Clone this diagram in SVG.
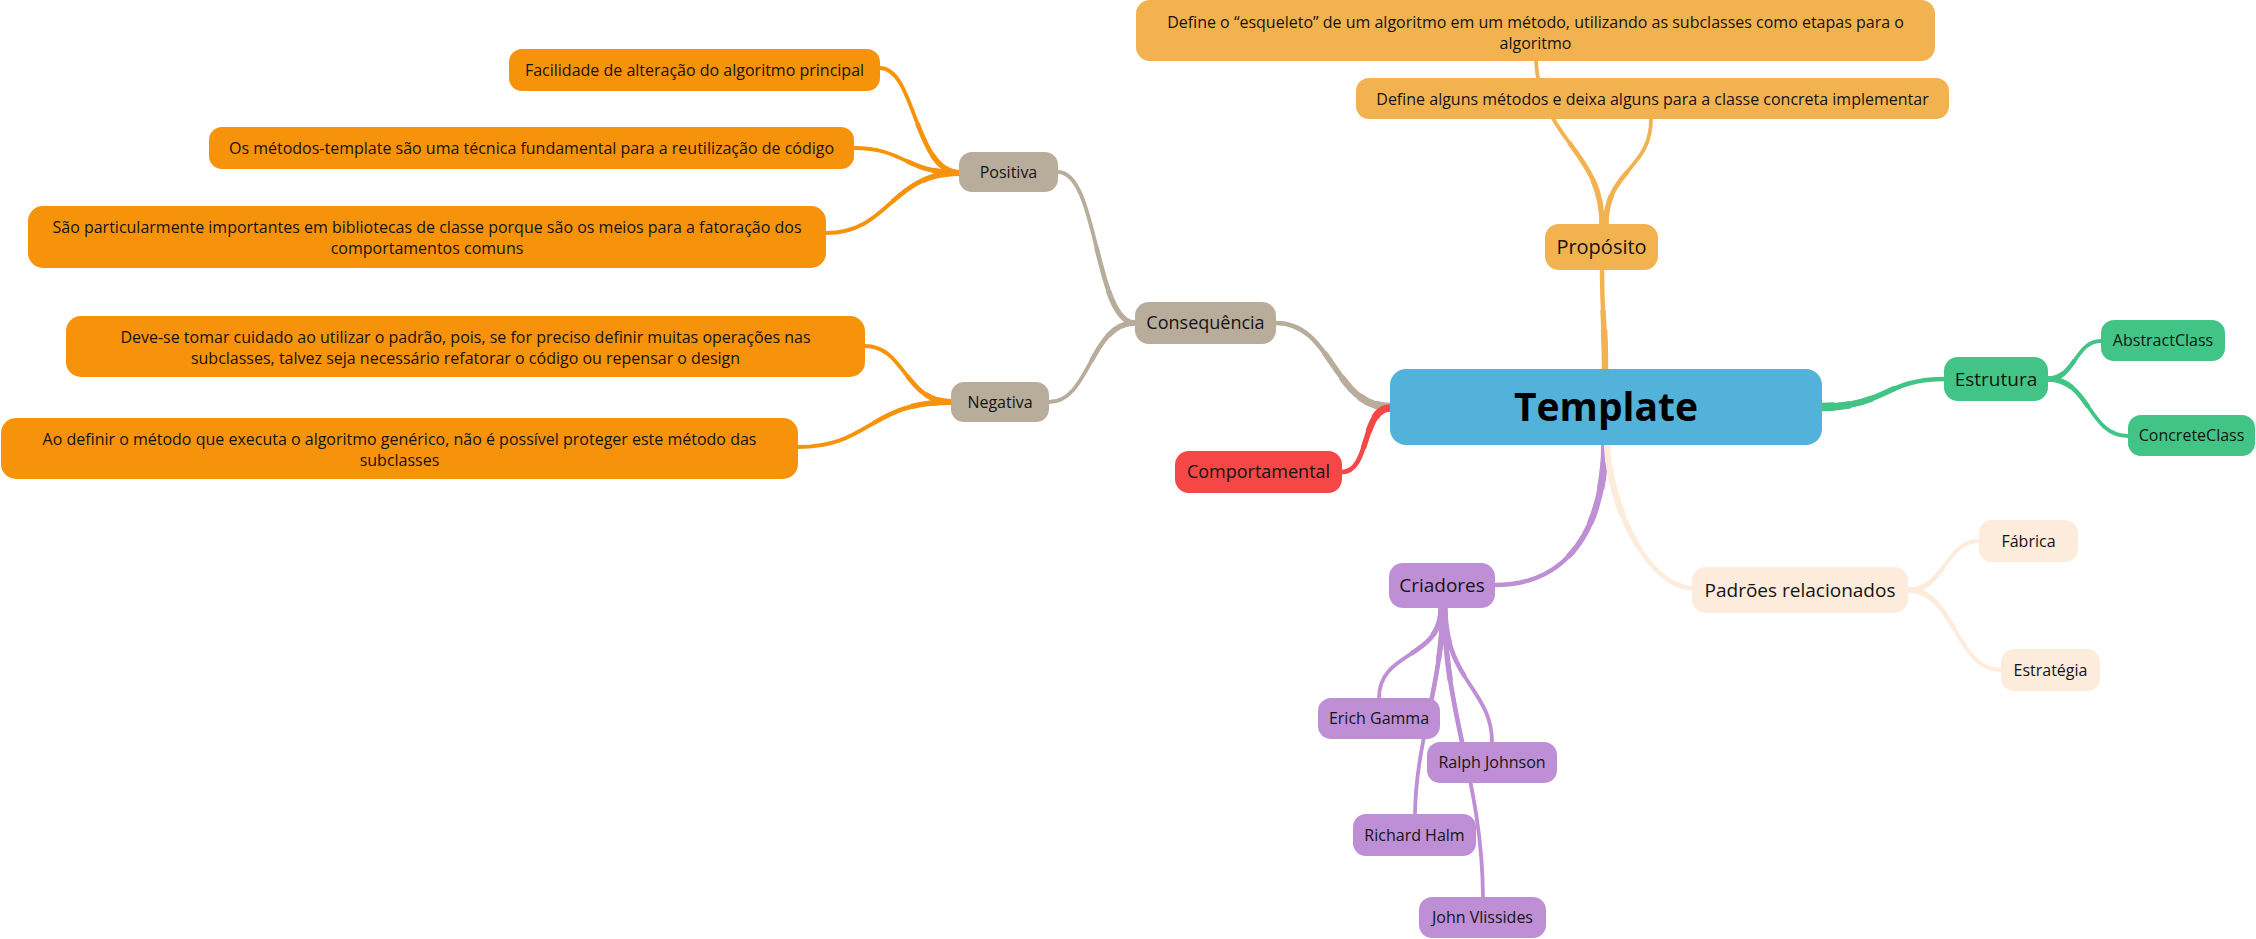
<svg xmlns="http://www.w3.org/2000/svg" xmlns:xlink="http://www.w3.org/1999/xlink" width="2256" height="939" viewBox="0 0 2256 939">
<style>
  text { font-family: "Open Sans", "Noto Sans", "Liberation Sans", sans-serif; fill: #141414; text-anchor: middle; font-size: 16px; }
  .title { font-size: 39px; font-weight: bold; fill: #000; }
  .f20 { font-size: 20px; }
  .f19 { font-size: 19px; }
  .f18 { font-size: 18px; }
  .k-taupe { stroke: #b8ac9a; }
  .k-red { stroke: #f64747; }
  .k-green { stroke: #41c486; }
  .k-yellow { stroke: #f3b250; }
  .k-purple { stroke: #be8fd4; }
  .k-peach { stroke: #fdebdc; }
  .k-orange { stroke: #f7930b; }
  .base-main { stroke-width: 4.5; }
  .base-sub { stroke-width: 3.8; }
  .tp { stroke-linecap: butt; }
  .m1 { stroke-width: 5.5; stroke-dasharray: 60 200; }
  .m2 { stroke-width: 6.5; stroke-dasharray: 40 200; }
  .m3 { stroke-width: 7.5; stroke-dasharray: 22 200; }
  .m4 { stroke-width: 8.5; stroke-dasharray: 10 200; }
  .s1 { stroke-width: 4.6; stroke-dasharray: 50 200; }
  .s2 { stroke-width: 5.4; stroke-dasharray: 25 200; }
  .s3 { stroke-width: 6.2; stroke-dasharray: 12 200; }
  .c-blue { fill: #53b2d9; }
  .c-yellow { fill: #f3b250; }
  .c-green { fill: #41c486; }
  .c-peach { fill: #fdebdc; }
  .c-purple { fill: #be8fd4; }
  .c-taupe { fill: #b8ac9a; }
  .c-red { fill: #f64747; }
  .c-orange { fill: #f7930b; }
</style>

<g id="connectors" fill="none" stroke-linecap="round">
  <g class="base-main">
    <path id="e1" class="k-taupe" pathLength="100" d="M1390,407 C1333,407 1333,323 1276,323"/>
    <path id="e2" class="k-red" pathLength="100" d="M1390,408 C1362,408 1370,472 1342,472"/>
    <path id="e3" class="k-green" pathLength="100" d="M1822,407 C1885,407 1885,379 1945,379"/>
    <path id="e4" class="k-yellow" pathLength="100" d="M1605,370 C1605,320 1602,320 1602,270"/>
    <path id="e5" class="k-purple" pathLength="100" d="M1605,445 C1603,540 1560,585 1495,585"/>
    <path id="e6" class="k-peach" pathLength="100" d="M1607,445 C1610,510 1650,588 1692,588"/>
  </g>
  <g class="base-sub">
    <path id="e7" class="k-yellow" pathLength="100" d="M1602,224 C1602,150 1540,140 1536,61"/>
    <path id="e8" class="k-yellow" pathLength="100" d="M1606,224 C1606,170 1651,170 1651,119"/>
    <path id="e9" class="k-green" pathLength="100" d="M2048,379 C2075,379 2075,341 2101,341"/>
    <path id="e10" class="k-green" pathLength="100" d="M2048,379 C2090,379 2088,436 2128,436"/>
    <path id="e11" class="k-peach" pathLength="100" d="M1908,590 C1945,590 1945,541 1979,541"/>
    <path id="e12" class="k-peach" pathLength="100" d="M1908,590 C1955,590 1955,670 2001,670"/>
    <path id="e13" class="k-taupe" pathLength="100" d="M1135,323 C1095,323 1098,172 1058,172"/>
    <path id="e14" class="k-taupe" pathLength="100" d="M1135,323 C1090,323 1090,402 1049,402"/>
    <path id="e15" class="k-purple" pathLength="100" d="M1441,608 C1441,660 1379,650 1379,698"/>
    <path id="e16" class="k-purple" pathLength="100" d="M1443,608 C1441,690 1416,740 1415,814"/>
    <path id="e17" class="k-purple" pathLength="100" d="M1445,608 C1445,680 1492,690 1492,742"/>
    <path id="e18" class="k-purple" pathLength="100" d="M1444,608 C1446,720 1482,780 1483,897"/>
    <path id="e19" class="k-orange" pathLength="100" d="M960,173 C915,173 915,68 880,68"/>
    <path id="e20" class="k-orange" pathLength="100" d="M960,173 C905,173 905,148 854,148"/>
    <path id="e21" class="k-orange" pathLength="100" d="M960,173 C890,173 890,233 826,233"/>
    <path id="e22" class="k-orange" pathLength="100" d="M951,402 C905,402 905,346 865,346"/>
    <path id="e23" class="k-orange" pathLength="100" d="M951,402 C870,402 870,447 798,447"/>
  </g>
  <!-- taper overlays: progressively thicker towards the parent end -->
  <g id="tapers">
    <use href="#e1" class="tp m1"/><use href="#e1" class="tp m2"/><use href="#e1" class="tp m3"/><use href="#e1" class="tp m4"/>
    <use href="#e2" class="tp m1"/><use href="#e2" class="tp m2"/><use href="#e2" class="tp m3"/>
    <use href="#e3" class="tp m1"/><use href="#e3" class="tp m2"/><use href="#e3" class="tp m3"/><use href="#e3" class="tp m4"/>
    <use href="#e4" class="tp m1"/><use href="#e4" class="tp m2"/>
    <use href="#e5" class="tp m1"/><use href="#e5" class="tp m2"/><use href="#e5" class="tp m3"/>
    <use href="#e6" class="tp m1"/><use href="#e6" class="tp m2"/>
    <use href="#e7" class="tp s1"/><use href="#e7" class="tp s2"/>
    <use href="#e8" class="tp s1"/><use href="#e8" class="tp s2"/>
    <use href="#e9" class="tp s1"/><use href="#e9" class="tp s2"/>
    <use href="#e10" class="tp s1"/><use href="#e10" class="tp s2"/>
    <use href="#e11" class="tp s1"/><use href="#e11" class="tp s2"/>
    <use href="#e12" class="tp s1"/><use href="#e12" class="tp s2"/>
    <use href="#e13" class="tp s1"/><use href="#e13" class="tp s2"/>
    <use href="#e14" class="tp s1"/><use href="#e14" class="tp s2"/>
    <use href="#e15" class="tp s1"/><use href="#e15" class="tp s2"/>
    <use href="#e16" class="tp s1"/><use href="#e16" class="tp s2"/>
    <use href="#e17" class="tp s1"/><use href="#e17" class="tp s2"/>
    <use href="#e18" class="tp s1"/><use href="#e18" class="tp s2"/>
    <use href="#e19" class="tp s1"/><use href="#e19" class="tp s2"/><use href="#e19" class="tp s3"/>
    <use href="#e20" class="tp s1"/><use href="#e20" class="tp s2"/><use href="#e20" class="tp s3"/>
    <use href="#e21" class="tp s1"/><use href="#e21" class="tp s2"/><use href="#e21" class="tp s3"/>
    <use href="#e22" class="tp s1"/><use href="#e22" class="tp s2"/><use href="#e22" class="tp s3"/>
    <use href="#e23" class="tp s1"/><use href="#e23" class="tp s2"/><use href="#e23" class="tp s3"/>
  </g>
</g>

<g id="nodes">
  <g id="n-template"><rect class="c-blue" x="1390" y="369" width="432" height="76" rx="16"/><text class="title" x="1606" y="421">Template</text></g>

  <g id="n-proposito"><rect class="c-yellow" x="1545" y="224" width="113" height="46" rx="14"/><text class="f20" x="1601.5" y="254">Propósito</text></g>
  <g id="n-define-esqueleto"><rect class="c-yellow" x="1136" y="0" width="799" height="61" rx="14"/><text x="1535.5" y="28">Define o “esqueleto” de um algoritmo em um método, utilizando as subclasses como etapas para o</text><text x="1535.5" y="49">algoritmo</text></g>
  <g id="n-define-alguns"><rect class="c-yellow" x="1356" y="78" width="593" height="41" rx="13"/><text x="1652.5" y="104.5">Define alguns métodos e deixa alguns para a classe concreta implementar</text></g>

  <g id="n-estrutura"><rect class="c-green" x="1944" y="357" width="104" height="44" rx="14"/><text class="f19" x="1996" y="385.5">Estrutura</text></g>
  <g id="n-abstractclass"><rect class="c-green" x="2101" y="320" width="124" height="41" rx="13"/><text x="2163" y="346">AbstractClass</text></g>
  <g id="n-concreteclass"><rect class="c-green" x="2128" y="415" width="127" height="41" rx="13"/><text x="2191.5" y="441">ConcreteClass</text></g>

  <g id="n-padroes"><rect class="c-peach" x="1692" y="567" width="216" height="46" rx="14"/><text class="f19" x="1800" y="597">Padrões relacionados</text></g>
  <g id="n-fabrica"><rect class="c-peach" x="1979" y="520" width="99" height="42" rx="13"/><text x="2028.5" y="546.5">Fábrica</text></g>
  <g id="n-estrategia"><rect class="c-peach" x="2001" y="649" width="99" height="42" rx="13"/><text x="2050.5" y="675.5">Estratégia</text></g>

  <g id="n-criadores"><rect class="c-purple" x="1389" y="563" width="106" height="45" rx="14"/><text class="f19" x="1442" y="592">Criadores</text></g>
  <g id="n-erich"><rect class="c-purple" x="1318" y="698" width="122" height="41" rx="13"/><text x="1379" y="724">Erich Gamma</text></g>
  <g id="n-ralph"><rect class="c-purple" x="1427" y="742" width="130" height="41" rx="13"/><text x="1492" y="768">Ralph Johnson</text></g>
  <g id="n-richard"><rect class="c-purple" x="1353" y="814" width="123" height="42" rx="13"/><text x="1414.5" y="840.5">Richard Halm</text></g>
  <g id="n-john"><rect class="c-purple" x="1419" y="897" width="127" height="41" rx="13"/><text x="1482.5" y="923">John Vlissides</text></g>

  <g id="n-consequencia"><rect class="c-taupe" x="1135" y="302" width="141" height="42" rx="14"/><text class="f18" x="1205.5" y="329.3">Consequência</text></g>
  <g id="n-comportamental"><rect class="c-red" x="1175" y="451" width="167" height="42" rx="14"/><text class="f18" x="1258.5" y="478.3">Comportamental</text></g>
  <g id="n-positiva"><rect class="c-taupe" x="959" y="152" width="99" height="40" rx="13"/><text x="1008.5" y="177.6">Positiva</text></g>
  <g id="n-negativa"><rect class="c-taupe" x="951" y="382" width="98" height="40" rx="13"/><text x="1000" y="407.6">Negativa</text></g>

  <g id="n-facilidade"><rect class="c-orange" x="509" y="49" width="371" height="42" rx="13"/><text x="694.5" y="75.6">Facilidade de alteração do algoritmo principal</text></g>
  <g id="n-metodos-template"><rect class="c-orange" x="209" y="127" width="645" height="42" rx="13"/><text x="531.5" y="153.6">Os métodos-template são uma técnica fundamental para a reutilização de código</text></g>
  <g id="n-bibliotecas"><rect class="c-orange" x="28" y="206" width="798" height="62" rx="15"/><text x="427" y="233">São particularmente importantes em bibliotecas de classe porque são os meios para a fatoração dos</text><text x="427" y="254">comportamentos comuns</text></g>
  <g id="n-cuidado"><rect class="c-orange" x="66" y="316" width="799" height="61" rx="15"/><text x="465.5" y="343">Deve-se tomar cuidado ao utilizar o padrão, pois, se for preciso definir muitas operações nas</text><text x="465.5" y="364">subclasses, talvez seja necessário refatorar o código ou repensar o design</text></g>
  <g id="n-proteger"><rect class="c-orange" x="1" y="418" width="797" height="61" rx="15"/><text x="399.5" y="445">Ao definir o método que executa o algoritmo genérico, não é possível proteger este método das</text><text x="399.5" y="466">subclasses</text></g>
</g>
</svg>
